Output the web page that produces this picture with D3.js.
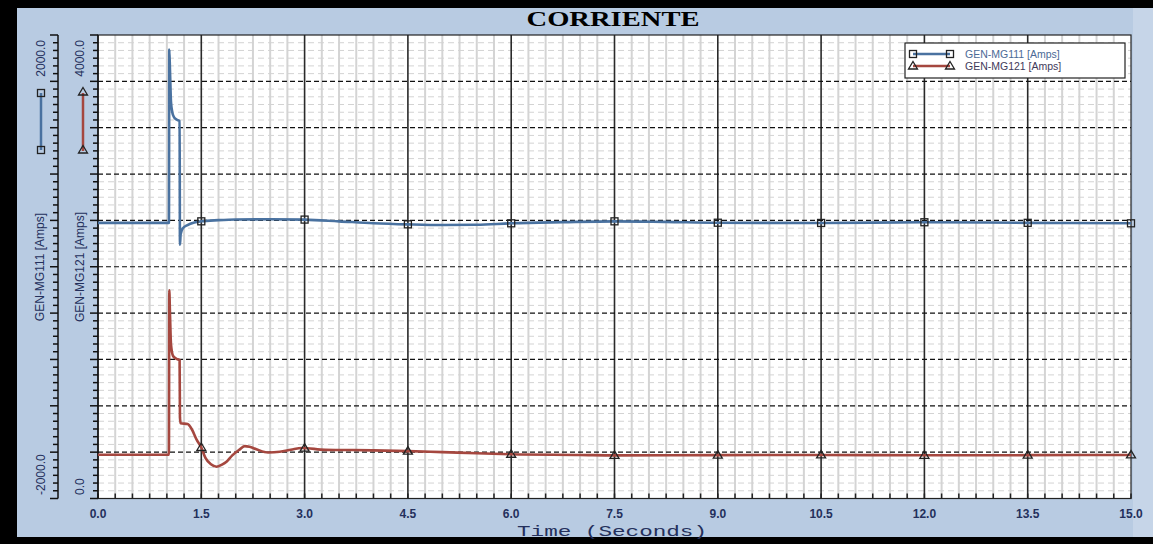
<!DOCTYPE html>
<html>
<head>
<meta charset="utf-8">
<script src="https://cdn.jsdelivr.net/npm/d3@7"></script>
<style>
  body { margin: 0; background: #000; }
  svg { display: block; }
</style>
</head>
<body>
<div id="chart"></div>
<script>
// series (time in seconds, current in amps)
var timeBlue = [0, 0.5, 1.03, 1.035, 1.045, 1.06, 1.08, 1.1, 1.14, 1.185, 1.19, 1.2, 1.23, 1.3, 1.4, 1.5, 1.75, 2.0, 2.5, 3.0, 3.5, 4.0, 4.5, 5.0, 5.5, 6.0, 6.75, 7.5, 8.25, 9.0, 10.5, 12.0, 13.5, 15.0];
var ampsBlue = [379, 379, 379, 1875, 1700, 1420, 1330, 1295, 1270, 1257, 190, 280, 330, 360, 382, 392, 402, 408, 410, 407, 392, 376, 366, 360, 362, 375, 385, 392, 387, 380, 378, 384, 379, 375];

var timeRed = [0, 0.5, 1.03, 1.035, 1.045, 1.06, 1.09, 1.14, 1.185, 1.19, 1.2, 1.3, 1.36, 1.43, 1.5, 1.56, 1.64, 1.72, 1.8, 1.87, 1.95, 2.05, 2.13, 2.2, 2.3, 2.47, 2.64, 2.8, 2.96, 3.3, 3.7, 4.0, 4.5, 5.0, 5.5, 6.0, 7.0, 7.5, 9.0, 10.5, 12.0, 13.5, 15.0];
var ampsRed = [378, 378, 378, 1797, 1600, 1330, 1230, 1205, 1194, 700, 650, 642, 600, 510, 440, 350, 295, 274, 292, 320, 372, 420, 452, 446, 425, 397, 403, 420, 436, 420, 418, 415, 409, 400, 390, 382, 376, 372, 374, 376, 373, 374, 376];

var seriesNames = ["GEN-MG111 [Amps]", "GEN-MG121 [Amps]"];
var xTickValues = [0, 1.5, 3.0, 4.5, 6.0, 7.5, 9.0, 10.5, 12.0, 13.5, 15.0];
var markerTimes = [1.5, 3.0, 4.5, 6.0, 7.5, 9.0, 10.5, 12.0, 13.5, 15.0];
var blueAxisLabels = ["2000.0", "-2000.0"];
var redAxisLabels = ["4000.0", "0.0"];

var width = 1153, height = 544;
var plotLeft = 98, plotRight = 1131, plotTop = 35, plotBottom = 498.5;
var bg = '#b8cbe2';
var blue = '#4a72a0', red = '#a5473f';
var textColor = '#24305c';

var svg = d3.select('#chart').append('svg')
    .attr('width', width)
    .attr('height', height);

// frame
svg.append('rect').attr('width', width).attr('height', height).attr('fill', '#000');
svg.append('rect').attr('x', 17).attr('y', 8).attr('width', width - 17).attr('height', 529).attr('fill', bg);
svg.append('rect').attr('x', 1133).attr('y', 8).attr('width', 20).attr('height', 529).attr('fill', '#c6d5e8');

var xScale = d3.scaleLinear().domain([0, 15]).range([plotLeft, plotRight]);
var yBlue = d3.scaleLinear().domain([-2000, 2000]).range([plotBottom, plotTop]);
var yRed = d3.scaleLinear().domain([0, 4000]).range([plotBottom, plotTop]);

// title
svg.append('text')
    .attr('x', 613).attr('y', 26)
    .attr('text-anchor', 'middle')
    .attr('textLength', 173).attr('lengthAdjust', 'spacingAndGlyphs')
    .style('font-family', '"Liberation Serif", "Times New Roman", serif')
    .style('font-weight', 'bold').style('font-size', '20px')
    .style('fill', '#000')
    .text('CORRIENTE');

// plot background
svg.append('rect')
    .attr('x', plotLeft).attr('y', plotTop)
    .attr('width', plotRight - plotLeft).attr('height', plotBottom - plotTop)
    .attr('fill', '#fff');

var grid = svg.append('g');

// minor vertical lines
var minorX = d3.range(0.25, 15, 0.25).filter(function(t) { return Math.abs(t / 1.5 - Math.round(t / 1.5)) > 1e-6; });
grid.selectAll('.vminor').data(minorX).enter().append('line')
    .attr('x1', function(d) { return xScale(d); }).attr('x2', function(d) { return xScale(d); })
    .attr('y1', plotTop).attr('y2', plotBottom)
    .attr('stroke', '#d4d4d4').attr('stroke-width', 2);

// minor horizontal dashed lines
var minorY = d3.range(-2000 + 400 / 6, 2000, 400 / 6).filter(function(v) { return Math.abs(v / 400 - Math.round(v / 400)) > 1e-6; });
grid.selectAll('.hminor').data(minorY).enter().append('line')
    .attr('x1', plotLeft).attr('x2', plotRight)
    .attr('y1', function(d) { return yBlue(d); }).attr('y2', function(d) { return yBlue(d); })
    .attr('stroke', '#d3d3d3').attr('stroke-width', 1)
    .attr('stroke-dasharray', '6,4');

// major vertical lines
grid.selectAll('.vmajor').data(xTickValues.slice(1, -1)).enter().append('line')
    .attr('x1', function(d) { return xScale(d); }).attr('x2', function(d) { return xScale(d); })
    .attr('y1', plotTop).attr('y2', plotBottom)
    .attr('stroke', '#2a2a2a').attr('stroke-width', 1.6);

// major horizontal dashed lines
var majorY = d3.range(-1600, 2000, 400);
grid.selectAll('.hmajor').data(majorY).enter().append('line')
    .attr('x1', plotLeft).attr('x2', plotRight)
    .attr('y1', function(d) { return yBlue(d); }).attr('y2', function(d) { return yBlue(d); })
    .attr('stroke', '#111').attr('stroke-width', 1.2)
    .attr('stroke-dasharray', '5,3');

// plot border
svg.append('rect')
    .attr('x', plotLeft).attr('y', plotTop)
    .attr('width', plotRight - plotLeft).attr('height', plotBottom - plotTop)
    .attr('fill', 'none').attr('stroke', '#222').attr('stroke-width', 1.2);

// x axis ticks inside bottom
var xTicks = d3.range(0, 15.001, 0.25);
svg.selectAll('.xtick').data(xTicks).enter().append('line')
    .attr('x1', function(d) { return xScale(d); }).attr('x2', function(d) { return xScale(d); })
    .attr('y1', plotBottom).attr('y2', plotBottom - 5)
    .attr('stroke', '#222').attr('stroke-width', 1.5);

svg.selectAll('.xlab').data(xTickValues).enter().append('text')
    .attr('x', function(d) { return xScale(d); })
    .attr('y', 518)
    .attr('text-anchor', 'middle')
    .style('font-family', '"Liberation Sans", Arial, sans-serif')
    .style('font-size', '12px').style('font-weight', 'bold')
    .style('fill', textColor)
    .text(function(d) { return d.toFixed(1); });

svg.append('text')
    .attr('x', 612).attr('y', 536)
    .attr('text-anchor', 'middle')
    .attr('textLength', 190).attr('lengthAdjust', 'spacingAndGlyphs')
    .style('font-family', '"Liberation Mono", "Courier New", monospace')
    .style('font-size', '15px')
    .style('fill', textColor)
    .text('Time (Seconds)');

// y axes (ticks only, labels at the ends)
function drawYAxis(xPos, scale, lo, hi, step) {
    var g = svg.append('g');
    g.append('line').attr('x1', xPos).attr('x2', xPos)
        .attr('y1', plotTop).attr('y2', plotBottom)
        .attr('stroke', '#111').attr('stroke-width', 1.5);
    var minor = d3.range(lo, hi + 0.001, step / 6);
    g.selectAll('line.t').data(minor).enter().append('line')
        .attr('class', 't')
        .attr('x1', function(d) { return Math.abs(d / step - Math.round(d / step)) < 1e-6 ? xPos - 8 : xPos - 5; })
        .attr('x2', xPos)
        .attr('y1', function(d) { return scale(d); }).attr('y2', function(d) { return scale(d); })
        .attr('stroke', '#111').attr('stroke-width', 1.5);
}
drawYAxis(58, yBlue, -2000, 2000, 400);
drawYAxis(plotLeft, yRed, 0, 4000, 400);

function rotLabel(x, y, anchor, txt, size) {
    svg.append('text')
        .attr('transform', 'translate(' + x + ',' + y + ') rotate(-90)')
        .attr('text-anchor', anchor)
        .attr('dominant-baseline', 'central')
        .style('font-family', '"Liberation Sans", Arial, sans-serif')
        .style('font-size', size + 'px')
        .style('fill', textColor)
        .text(txt);
}
rotLabel(41, 40, 'end', blueAxisLabels[0], 12);
rotLabel(41, 495, 'start', blueAxisLabels[1], 12);
rotLabel(80, 40, 'end', redAxisLabels[0], 12);
rotLabel(80, 495, 'start', redAxisLabels[1], 12);
rotLabel(40, 267, 'middle', seriesNames[0], 12);
rotLabel(80, 267, 'middle', seriesNames[1], 12);

// markers
function squareMark(g, x, y) {
    g.append('rect').attr('x', x - 3.5).attr('y', y - 3.5).attr('width', 7).attr('height', 7)
        .attr('fill', 'none').attr('stroke', '#222').attr('stroke-width', 1.3);
}
function triMark(g, x, y) {
    g.append('path').attr('d', 'M' + x + ',' + (y - 4.5) + 'L' + (x + 4.5) + ',' + (y + 3) + 'L' + (x - 4.5) + ',' + (y + 3) + 'Z')
        .attr('fill', 'none').attr('stroke', '#222').attr('stroke-width', 1.3);
}

// swatches beside the axes
var sw = svg.append('g');
sw.append('line').attr('x1', 41).attr('x2', 41).attr('y1', 93).attr('y2', 150)
    .attr('stroke', blue).attr('stroke-width', 2.5);
squareMark(sw, 41, 93); squareMark(sw, 41, 150);
sw.append('line').attr('x1', 83).attr('x2', 83).attr('y1', 93).attr('y2', 151)
    .attr('stroke', red).attr('stroke-width', 2.5);
triMark(sw, 83, 92); triMark(sw, 83, 150);

// series
var blueData = timeBlue.map(function(t, i) { return { t: t, v: ampsBlue[i] }; });
var redData = timeRed.map(function(t, i) { return { t: t, v: ampsRed[i] }; });

function lineFor(scale) {
    return d3.line()
        .x(function(d) { return xScale(d.t); })
        .y(function(d) { return scale(d.v); })
        .curve(d3.curveMonotoneX);
}

svg.append('path').datum(redData)
    .attr('d', lineFor(yRed))
    .attr('fill', 'none').attr('stroke', red).attr('stroke-width', 2.6);
svg.append('path').datum(blueData)
    .attr('d', lineFor(yBlue))
    .attr('fill', 'none').attr('stroke', blue).attr('stroke-width', 2.6);

function valueAt(data, t) {
    var i = d3.bisector(function(d) { return d.t; }).left(data, t);
    if (i <= 0) return data[0].v;
    if (i >= data.length) return data[data.length - 1].v;
    var a = data[i - 1], b = data[i];
    return a.v + (b.v - a.v) * (t - a.t) / (b.t - a.t);
}

var marks = svg.append('g');
markerTimes.forEach(function(t) {
    squareMark(marks, xScale(t), yBlue(valueAt(blueData, t)));
    triMark(marks, xScale(t), yRed(valueAt(redData, t)));
});

// legend
var leg = svg.append('g');
leg.append('rect').attr('x', 905).attr('y', 43).attr('width', 220).attr('height', 35)
    .attr('fill', '#fff').attr('stroke', '#222').attr('stroke-width', 1.2);
leg.append('line').attr('x1', 913).attr('x2', 950).attr('y1', 54).attr('y2', 54)
    .attr('stroke', blue).attr('stroke-width', 2.5);
squareMark(leg, 913, 54); squareMark(leg, 950, 54);
leg.append('line').attr('x1', 913).attr('x2', 950).attr('y1', 66).attr('y2', 66)
    .attr('stroke', red).attr('stroke-width', 2.5);
triMark(leg, 913, 66); triMark(leg, 950, 66);
leg.selectAll('.lt').data(seriesNames).enter().append('text')
    .attr('x', 965)
    .attr('y', function(d, i) { return 58 + i * 12; })
    .style('font-family', '"Liberation Sans", Arial, sans-serif')
    .style('font-size', '10.5px')
    .style('fill', function(d, i) { return i === 0 ? '#4b6a96' : '#3f3a5a'; })
    .text(function(d) { return d; });
</script>
</body>
</html>
